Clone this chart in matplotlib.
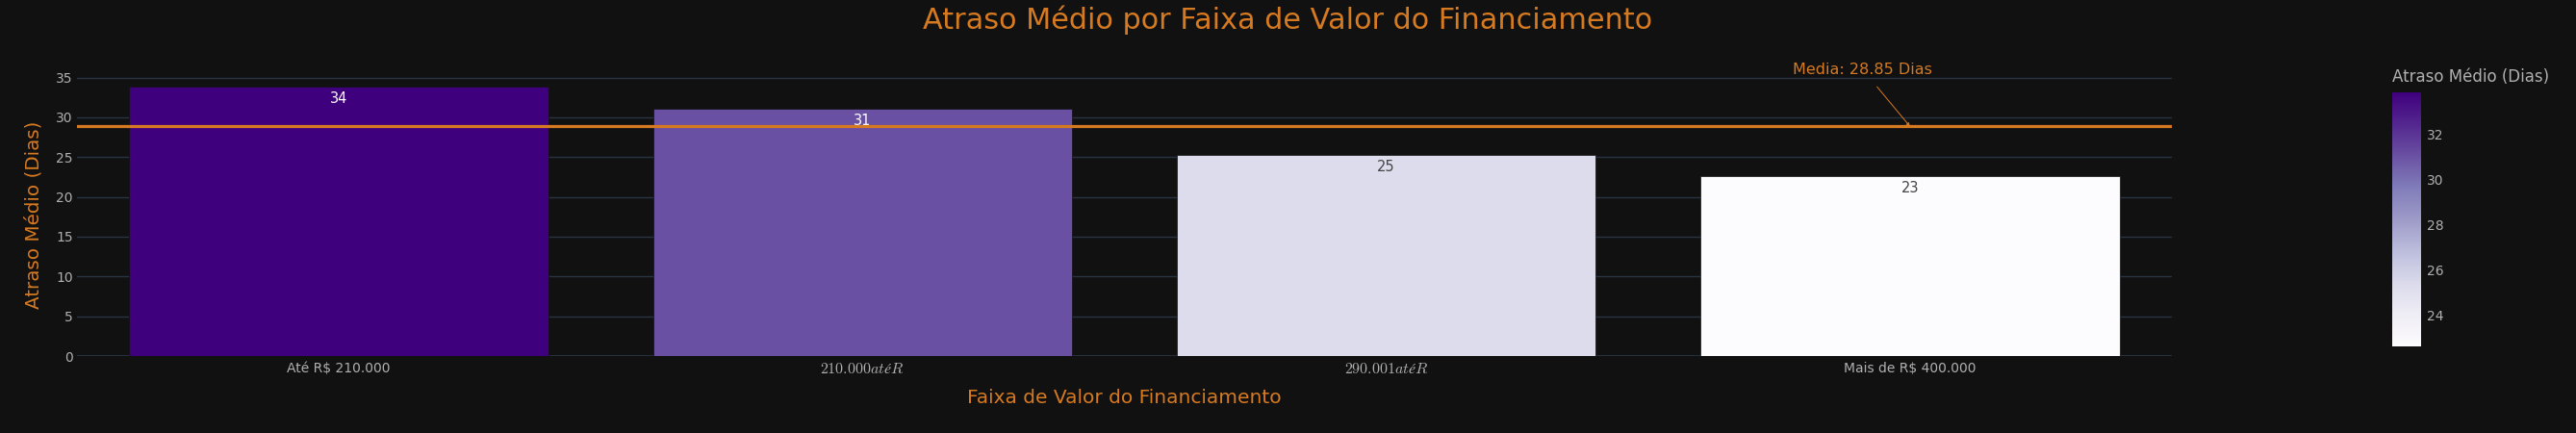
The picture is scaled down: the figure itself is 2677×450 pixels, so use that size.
import numpy as np
import matplotlib
matplotlib.use("Agg")
import matplotlib.pyplot as plt
from matplotlib.colors import Normalize

# Data
faixas = ['Até R$ 210.000', r'$210.000 até R$', r'$290.001 até R$', 'Mais de R$ 400.000']
atraso_medio = [33.86, 31.08, 25.30, 22.64]
rotulos = ['34', '31', '25', '23']
media = 28.85

# Style
BG = '#111111'
GRID = '#283442'
ORANGE = '#d67a22'
TICK = '#b0b0b0'

plt.rcParams['font.family'] = ['DejaVu Sans']
plt.rcParams['mathtext.fontset'] = 'cm'

fig = plt.figure(figsize=(26.77, 4.5), dpi=100, facecolor=BG)
ax = fig.add_axes([80 / 2677, 80 / 450, 2177 / 2677, 294 / 450])
ax.set_facecolor(BG)

cmap = plt.get_cmap('Purples')
norm = Normalize(vmin=min(atraso_medio), vmax=max(atraso_medio))
x = np.arange(len(faixas))
cores = [cmap(norm(v)) for v in atraso_medio]
ax.bar(x, atraso_medio, width=0.8, color=cores, edgecolor=BG, linewidth=0.5, zorder=2)

for xi, v, r, c in zip(x, atraso_medio, rotulos, cores):
    lum = 0.299 * c[0] + 0.587 * c[1] + 0.114 * c[2]
    ax.annotate(r, (xi, v), xytext=(0, -5), textcoords='offset pixels',
                ha='center', va='top', fontsize=10.5,
                color='white' if lum < 0.6 else '#444444', zorder=3)

ax.axhline(media, color=ORANGE, lw=2.3, zorder=4)
ax.annotate(f'Media: {media} Dias', xy=(3, media), xytext=(-49, 59),
            textcoords='offset pixels', ha='center', va='center',
            fontsize=11.5, color=ORANGE,
            arrowprops=dict(arrowstyle='-|>', color=ORANGE, lw=0.7,
                            mutation_scale=5, shrinkA=7, shrinkB=0))

ax.set_xlim(-0.5, 3.5)
ax.set_ylim(0, 35.55)
ax.set_yticks(np.arange(0, 36, 5))
ax.set_xticks(x)
ax.set_xticklabels(faixas)
ax.tick_params(axis='both', length=0, colors=TICK, labelsize=10)
ax.tick_params(axis='x', pad=4)
ax.tick_params(axis='y', pad=3)
# the mangled (latex) labels come out smaller, bump them up
for lbl in ax.get_xticklabels():
    if lbl.get_text().startswith('$'):
        lbl.set_fontsize(11.5)
ax.grid(axis='y', color=GRID, lw=1, zorder=0)
ax.axhline(0, color=GRID, lw=2, zorder=1)
for s in ax.spines.values():
    s.set_visible(False)

ax.set_xlabel('Faixa de Valor do Financiamento', color=ORANGE, fontsize=14.5, labelpad=10)
ax.set_ylabel('Atraso Médio (Dias)', color=ORANGE, fontsize=14.3, labelpad=10)

fig.suptitle('Atraso Médio por Faixa de Valor do Financiamento', color=ORANGE,
             fontsize=21.8, x=0.5, y=1 - 21 / 450, va='center')

# Colorbar
cax = fig.add_axes([2486 / 2677, 90 / 450, 30 / 2677, 264 / 450])
sm = plt.cm.ScalarMappable(norm=norm, cmap=cmap)
cb = fig.colorbar(sm, cax=cax)
cb.outline.set_visible(False)
cb.set_ticks([24, 26, 28, 30, 32])
cb.ax.tick_params(length=0, colors=TICK, labelsize=10, pad=4)
fig.text(2486 / 2677, 1 - 80 / 450, 'Atraso Médio (Dias)', color=TICK,
         fontsize=12, ha='left', va='center')

fig.savefig('out.png', dpi=100, facecolor=BG)
